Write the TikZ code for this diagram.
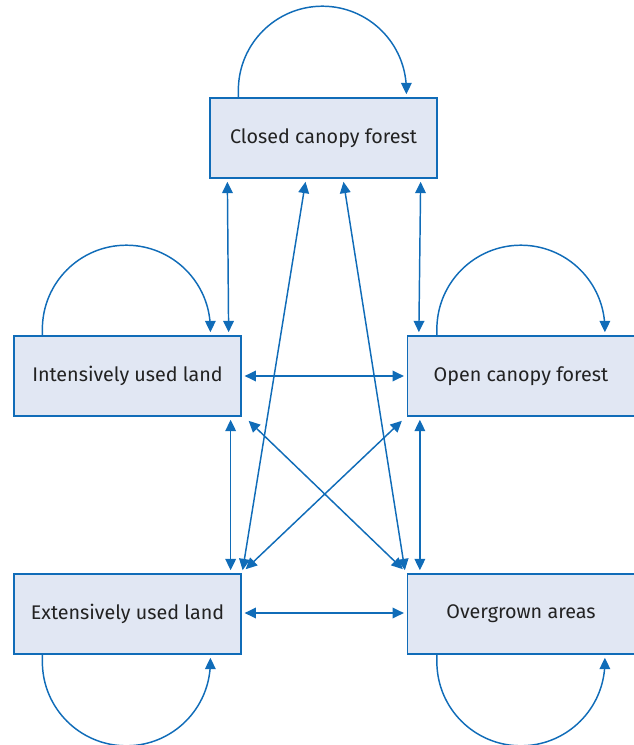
\documentclass[tikz,border=0pt]{standalone}
\usepackage{fontspec}
\setmainfont{Fira Sans}
\usetikzlibrary{arrows.meta,calc}
\definecolor{lineblue}{RGB}{16,108,184}
\definecolor{boxfill}{RGB}{225,231,243}
\definecolor{textgrey}{RGB}{34,34,34}
\begin{document}
\begin{tikzpicture}[x=0.75pt,y=0.75pt,yscale=-1,xscale=1,
  landbox/.style={draw=lineblue,fill=boxfill,line width=1.2pt,minimum width=170pt,minimum height=60pt,inner sep=0pt,text=textgrey,font=\fontsize{14.8}{17}\selectfont},
  link/.style={draw=lineblue,line width=1.1pt,{Triangle[length=8.5pt,width=8pt]}-{Triangle[length=8.5pt,width=8pt]}},
  loop/.style={draw=lineblue,line width=1.1pt,-{Triangle[length=8.5pt,width=8pt]}}]
\useasboundingbox (0,0) rectangle (634,745);

%Shape: Rectangle
\node [landbox] (closed) at (323.5,138) {Closed canopy forest};
%Shape: Rectangle
\node [landbox] (intensive) at (127.5,376) {Intensively used land};
%Shape: Rectangle
\node [landbox] (open) at (521,376) {Open canopy forest};
%Shape: Rectangle
\node [landbox] (extensive) at (127.5,614) {Extensively used land};
%Shape: Rectangle
\node [landbox] (overgrown) at (521,614) {Overgrown areas};

%Curve Lines
\draw [loop] ($(closed.north west)+(29,0)$) -- ++(0,-7) arc [start angle=180,end angle=360,radius=84] -- ++(0,4);
\draw [loop] ($(intensive.north west)+(29,0)$) -- ++(0,-6) arc [start angle=180,end angle=360,radius=84] -- ++(0,3);
\draw [loop] ($(open.north west)+(30,0)$) -- ++(0,-6) arc [start angle=180,end angle=360,radius=84] -- ++(0,3);
\draw [loop] ($(extensive.south west)+(29,0)$) -- ++(0,7) arc [start angle=180,end angle=0,radius=84] -- ++(0,-4);
\draw [loop] ($(overgrown.south west)+(30,0)$) -- ++(0,7) arc [start angle=180,end angle=0,radius=84] -- ++(0,-4);

%Straight Lines
\draw [link] ($(closed.south west)+(18,3)$) -- ($(intensive.north east)+(-13,-3)$);
\draw [link] ($(closed.south east)+(-17,3)$) -- ($(open.north west)+(12,-3)$);
\draw [link] ($(closed.south)+(-18,3)$) -- ($(extensive.north east)+(1,-3)$);
\draw [link] ($(closed.south)+(20,3)$) -- ($(overgrown.north west)+(-2,-3)$);
\draw [link] ($(intensive.east)+(3,0)$) -- ($(open.west)+(-3,0)$);
\draw [link] ($(extensive.east)+(3,-1)$) -- ($(overgrown.west)+(-3,-1)$);
\draw [link] ($(intensive.south east)+(-11,3)$) -- ($(extensive.north east)+(-11,-3)$);
\draw [link] ($(open.south west)+(13,3)$) -- ($(overgrown.north west)+(13,-3)$);
\draw [link] ($(intensive.south east)+(7,4)$) -- ($(overgrown.north west)+(-4,-4)$);
\draw [link] ($(open.south west)+(-5,4)$) -- ($(extensive.north east)+(4,-4)$);

\end{tikzpicture}
\end{document}
